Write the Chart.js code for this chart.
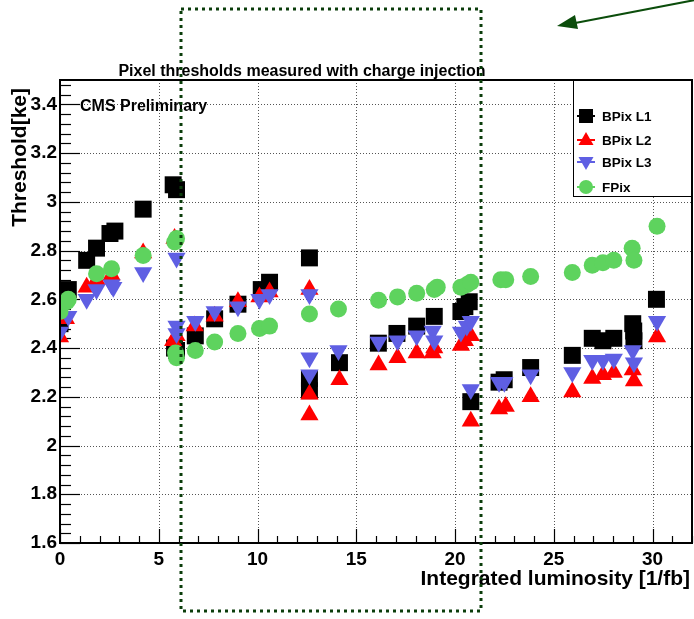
<!DOCTYPE html>
<html>
<head>
<meta charset="utf-8">
<script src="https://cdn.jsdelivr.net/npm/chart.js@4/dist/chart.umd.min.js"></script>
<style>
  html, body { margin: 0; padding: 0; background: #fff; }
  canvas { display: block; }
</style>
</head>
<body>
<canvas id="thr" width="694" height="619"></canvas>
<script>
// values (x = integrated luminosity [1/fb], y = threshold [ke])
var l1X = [0, 0.42, 1.35, 1.85, 2.53, 2.78, 4.21, 5.73, 5.9, 5.8, 5.9, 6.85, 7.83, 9.01, 10.19, 10.61, 12.63, 12.63, 12.63,
           14.15, 16.12, 17.06, 18.06, 18.95, 20.3, 20.5, 20.72, 20.8, 22.23, 22.49, 23.83, 25.94, 26.95, 27.49, 28.04, 29.0, 29.05, 29.06, 30.2];
var l1Y = [2.50, 2.64, 2.76, 2.81, 2.87, 2.88, 2.97, 3.07, 3.05, 2.40, 2.39, 2.45, 2.52, 2.58, 2.64, 2.67, 2.77, 2.275, 2.225,
           2.34, 2.42, 2.46, 2.49, 2.53, 2.55, 2.57, 2.59, 2.18, 2.26, 2.27, 2.32, 2.37, 2.44, 2.43, 2.44, 2.50, 2.47, 2.43, 2.60];

var l2X = [0, 0.3, 1.35, 1.85, 2.61, 4.21, 5.8, 5.73, 5.9, 6.82, 7.83, 9.01, 10.1, 10.61, 12.63, 12.63, 12.63,
           14.15, 16.13, 17.09, 18.06, 18.87, 18.95, 20.3, 20.5, 20.8, 20.8, 22.23, 22.57, 23.83, 25.94, 26.95, 27.49, 28.04, 29.0, 29.06, 30.23];
var l2Y = [2.445, 2.52, 2.65, 2.68, 2.70, 2.79, 2.85, 2.43, 2.45, 2.49, 2.53, 2.59, 2.61, 2.63, 2.64, 2.21, 2.125,
           2.27, 2.33, 2.36, 2.38, 2.38, 2.40, 2.41, 2.43, 2.45, 2.10, 2.15, 2.16, 2.20, 2.22, 2.275, 2.29, 2.30, 2.31, 2.265, 2.445];

var l3X = [0, 0.42, 1.35, 1.85, 2.61, 2.7, 4.21, 5.9, 5.9, 5.9, 6.85, 7.83, 9.01, 10.1, 10.61, 12.63, 12.63, 12.63,
           14.1, 16.13, 17.09, 18.06, 18.87, 18.95, 20.3, 20.6, 20.8, 20.8, 22.23, 22.5, 23.83, 25.94, 26.95, 27.49, 28.04, 29.0, 29.06, 30.23];
var l3Y = [2.466, 2.53, 2.60, 2.64, 2.66, 2.65, 2.71, 2.77, 2.49, 2.46, 2.51, 2.55, 2.57, 2.60, 2.62, 2.62, 2.36, 2.29,
           2.39, 2.425, 2.43, 2.45, 2.47, 2.43, 2.466, 2.49, 2.51, 2.23, 2.26, 2.26, 2.29, 2.30, 2.35, 2.35, 2.355, 2.39, 2.34, 2.51];

var fpX = [0, 0.34, 0.42, 1.85, 2.61, 4.21, 5.81, 5.9, 5.9, 5.85, 6.85, 7.83, 9.01, 10.1, 10.61, 12.63, 14.1,
           16.13, 17.09, 18.06, 18.95, 19.1, 20.3, 20.6, 20.8, 22.32, 22.57, 23.83, 25.94, 26.95, 27.49, 28.04, 28.97, 29.06, 30.23];
var fpY = [2.55, 2.59, 2.60, 2.705, 2.725, 2.78, 2.835, 2.85, 2.36, 2.38, 2.39, 2.425, 2.46, 2.48, 2.49, 2.54, 2.56,
           2.596, 2.61, 2.625, 2.64, 2.65, 2.65, 2.66, 2.67, 2.68, 2.68, 2.694, 2.71, 2.74, 2.75, 2.76, 2.81, 2.76, 2.90];

var xTicks = [0, 5, 10, 15, 20, 25, 30];
var yTicks = [1.6, 1.8, 2, 2.2, 2.4, 2.6, 2.8, 3, 3.2, 3.4];

var seriesNames = ["BPix L1", "BPix L2", "BPix L3", "FPix"];
var seriesColors = ["#000000", "#ff0000", "#5f5fe3", "#5ed35e"];

function pts(xs, ys) {
  var out = [];
  for (var i = 0; i < xs.length; i++) out.push({x: xs[i], y: ys[i]});
  return out;
}

var boldFont = "'Liberation Sans', Arial, sans-serif";

// frame, inward ticks, dotted grid, texts, legend and the green overlay
var decor = {
  id: "decor",
  beforeDatasetsDraw: function(chart) {
    var ctx = chart.ctx, a = chart.chartArea;
    var xs = chart.scales.x, ys = chart.scales.y;
    ctx.save();
    ctx.strokeStyle = "#555";
    ctx.lineWidth = 1;
    ctx.setLineDash([1, 2]);
    xTicks.forEach(function(v) {
      if (v <= 0) return;
      var px = Math.round(xs.getPixelForValue(v)) + 0.5;
      ctx.beginPath(); ctx.moveTo(px, a.bottom); ctx.lineTo(px, a.top); ctx.stroke();
    });
    yTicks.forEach(function(v) {
      if (v <= 1.6) return;
      var py = Math.round(ys.getPixelForValue(v)) + 0.5;
      ctx.beginPath(); ctx.moveTo(a.left, py); ctx.lineTo(a.right, py); ctx.stroke();
    });
    ctx.setLineDash([]);
    ctx.strokeStyle = "#000";
    ctx.lineWidth = 1.2;
    // x ticks, every 1 unit, major every 5
    for (var i = 0; i <= 32; i++) {
      var px = Math.round(xs.getPixelForValue(i)) + 0.5;
      var len = (i % 5 === 0) ? 14 : 7;
      ctx.beginPath(); ctx.moveTo(px, a.bottom); ctx.lineTo(px, a.bottom - len); ctx.stroke();
    }
    // y ticks, every 0.04, major every 0.2
    for (var k = 0; k <= 47; k++) {
      var v = 1.6 + k * 0.04;
      var py = Math.round(ys.getPixelForValue(v)) + 0.5;
      var l = (k % 5 === 0) ? 20 : 11;
      ctx.beginPath(); ctx.moveTo(a.left, py); ctx.lineTo(a.left + l, py); ctx.stroke();
    }
    ctx.restore();
  },
  afterDatasetsDraw: function(chart) {
    var ctx = chart.ctx, a = chart.chartArea;
    ctx.save();
    // frame
    ctx.strokeStyle = "#000";
    ctx.lineWidth = 2;
    ctx.strokeRect(a.left, a.top, a.right - a.left, a.bottom - a.top);

    // texts
    ctx.fillStyle = "#000";
    ctx.textBaseline = "alphabetic";
    ctx.font = "bold 16px " + boldFont;
    ctx.textAlign = "center";
    ctx.fillText("Pixel thresholds measured with charge injection", 302, 76);

    ctx.font = "bold 16px " + boldFont;
    ctx.textAlign = "left";
    ctx.fillText("CMS Preliminary", 80, 111);

    ctx.font = "bold 21px " + boldFont;
    ctx.textAlign = "right";
    ctx.fillText("Integrated luminosity [1/fb]", 690, 585);

    ctx.save();
    ctx.translate(26, 88);
    ctx.rotate(-Math.PI / 2);
    ctx.textAlign = "right";
    ctx.fillText("Threshold[ke]", 0, 0);
    ctx.restore();

    // legend box
    ctx.fillStyle = "#fff";
    ctx.fillRect(573, a.top + 1, a.right - 574, 196 - a.top - 1);
    ctx.strokeStyle = "#000";
    ctx.lineWidth = 1;
    ctx.strokeRect(573.5, a.top, a.right - 573.5, 196.5 - a.top);
    var rows = [116, 140, 162, 187];
    ctx.font = "bold 13.5px " + boldFont;
    ctx.textAlign = "left";
    ctx.textBaseline = "middle";
    for (var i = 0; i < 4; i++) {
      var cy = rows[i], cx = 586, col = seriesColors[i];
      ctx.strokeStyle = col; ctx.fillStyle = col; ctx.lineWidth = 2;
      ctx.beginPath(); ctx.moveTo(577, cy); ctx.lineTo(595, cy); ctx.stroke();
      ctx.beginPath();
      if (i === 0) ctx.rect(cx - 7, cy - 7, 14, 14);
      else if (i === 1) { ctx.moveTo(cx, cy - 8); ctx.lineTo(cx + 7.5, cy + 5); ctx.lineTo(cx - 7.5, cy + 5); ctx.closePath(); }
      else if (i === 2) { ctx.moveTo(cx, cy + 8); ctx.lineTo(cx + 7.5, cy - 5); ctx.lineTo(cx - 7.5, cy - 5); ctx.closePath(); }
      else ctx.arc(cx, cy, 7, 0, Math.PI * 2);
      ctx.fill();
      ctx.fillStyle = "#000";
      ctx.fillText(seriesNames[i], 602, cy + 1);
    }

    // green dotted overlay box and arrow
    ctx.strokeStyle = "#0b3d0b";
    ctx.lineWidth = 3;
    ctx.setLineDash([3, 4]);
    ctx.strokeRect(181, 9, 300, 602);
    ctx.setLineDash([]);
    ctx.strokeStyle = "#0b4d0b";
    ctx.fillStyle = "#0b4d0b";
    ctx.lineWidth = 2;
    ctx.beginPath(); ctx.moveTo(700, -1); ctx.lineTo(570, 24); ctx.stroke();
    ctx.beginPath();
    ctx.moveTo(557, 26); ctx.lineTo(575, 15); ctx.lineTo(578, 29); ctx.closePath();
    ctx.fill();
    ctx.restore();
  }
};

function ds(i, xs, ys, style, radius, rot) {
  return {
    label: seriesNames[i],
    data: pts(xs, ys),
    pointStyle: style,
    pointRadius: radius,
    pointRotation: rot,
    pointBackgroundColor: seriesColors[i],
    pointBorderColor: seriesColors[i],
    pointBorderWidth: 0,
    showLine: false
  };
}

new Chart(document.getElementById("thr"), {
  type: "scatter",
  data: {
    // first dataset ends up on top
    datasets: [
      ds(3, fpX, fpY, "circle", 8.5, 0),
      ds(2, l3X, l3Y, "triangle", 10.5, 180),
      ds(1, l2X, l2Y, "triangle", 10.5, 0),
      ds(0, l1X, l1Y, "rect", 12, 0)
    ]
  },
  options: {
    responsive: false,
    animation: false,
    devicePixelRatio: 1,
    layout: { autoPadding: false, padding: { top: 80, right: 2, left: 0, bottom: 0 } },
    plugins: { legend: { display: false }, tooltip: { enabled: false }, title: { display: false } },
    scales: {
      x: {
        type: "linear", min: 0, max: 32,
        afterBuildTicks: function(s) { s.ticks = xTicks.map(function(v) { return {value: v}; }); },
        afterFit: function(s) { s.height = 76; s.paddingLeft = 0; s.paddingRight = 0; },
        grid: { display: false, drawTicks: false },
        border: { display: false },
        ticks: { color: "#000", padding: 5, maxRotation: 0, autoSkip: false,
                 font: { family: boldFont, size: 19, weight: "bold" },
                 callback: function(v) { return String(v); } }
      },
      y: {
        type: "linear", min: 1.6, max: 3.5,
        afterBuildTicks: function(s) { s.ticks = yTicks.map(function(v) { return {value: v}; }); },
        afterFit: function(s) { s.width = 60; s.paddingTop = 0; s.paddingBottom = 0; },
        grid: { display: false, drawTicks: false },
        border: { display: false },
        ticks: { color: "#000", padding: 3, autoSkip: false,
                 font: { family: boldFont, size: 19, weight: "bold" },
                 callback: function(v) { return String(Math.round(v * 10) / 10); } }
      }
    }
  },
  plugins: [decor]
});
</script>
</body>
</html>
